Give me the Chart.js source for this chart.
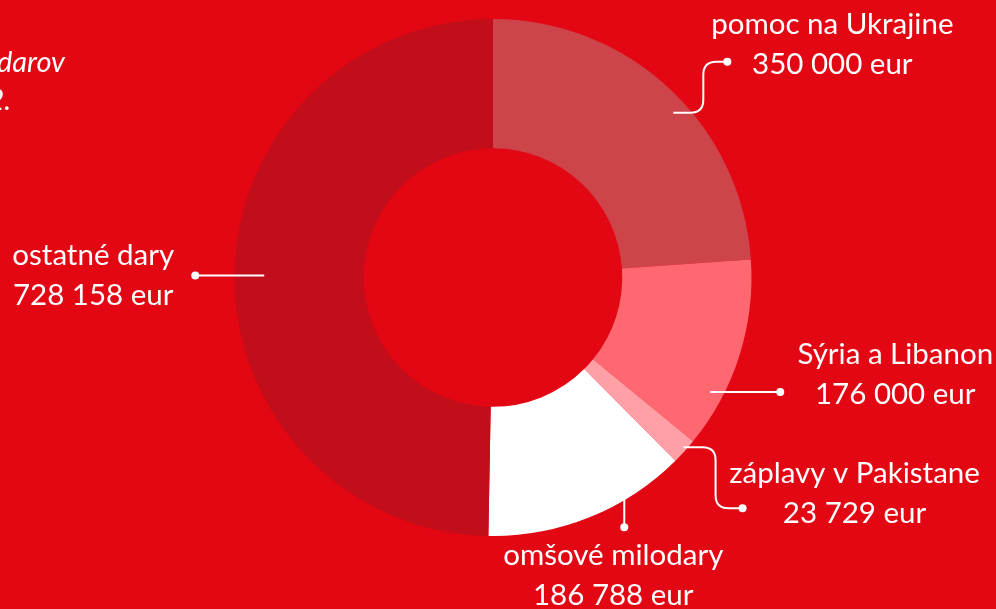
<!DOCTYPE html>
<html>
<head>
<meta charset="utf-8">
<script src="https://cdn.jsdelivr.net/npm/chart.js@4.4.0/dist/chart.umd.min.js"></script>
<style>
  html, body { margin: 0; padding: 0; background: #e30613; }
  #wrap { width: 996px; height: 609px; position: relative; }
</style>
</head>
<body>
<div id="wrap"><canvas id="donut"></canvas></div>
<script>
// data
const categories = ['pomoc na Ukrajine', 'Sýria a Libanon', 'záplavy v Pakistane', 'omšové milodary', 'ostatné dary'];
const amounts = [350000, 176000, 23729, 186788, 728158];
const valueLabels = ['350 000 eur', '176 000 eur', '23 729 eur', '186 788 eur', '728 158 eur'];
const sliceColors = ['#cd444b', '#ff6871', '#ff9fa6', '#ffffff', '#c20e1a'];

// where each leader line leaves the ring and how it bends
const leaders = [
  { f: 0.553, k: 0.945, kind: 'up',   h1: 30, rise: -51, h2: 24, tx: 105, ty: 12 },
  { f: 0.734, k: 0.95,  kind: 'flat', h1: 70, tx: 115, ty: 12 },
  { f: 0.41,  k: 0.987, kind: 'up',   h1: 32, rise: 61, h2: 27, tx: 112, ty: 15 },
  { f: 0.29,  k: 0.97,  kind: 'down', v: 36, tx: -11, ty: 78 },
  { f: 0.5,   k: 0.885, kind: 'flat', h1: -69, tx: -102, ty: 30 }
];

const FONT = '29.5px Lato, "Open Sans", sans-serif';

const labelPlugin = {
  id: 'leaderLabels',
  afterDraw(chart) {
    const ctx = chart.ctx;
    const arcs = chart.getDatasetMeta(0).data;
    ctx.save();
    ctx.strokeStyle = '#ffffff';
    ctx.fillStyle = '#ffffff';
    ctx.lineWidth = 2;
    arcs.forEach((arc, i) => {
      const L = leaders[i];
      const a = arc.startAngle + L.f * (arc.endAngle - arc.startAngle);
      const r = arc.outerRadius * L.k;
      const sx = arc.x + Math.cos(a) * r;
      const sy = arc.y + Math.sin(a) * r;
      let dx, dy;
      ctx.beginPath();
      ctx.moveTo(sx, sy);
      if (L.kind === 'flat') {
        dx = sx + L.h1; dy = sy;
        ctx.lineTo(dx, dy);
      } else if (L.kind === 'down') {
        dx = sx; dy = sy + L.v;
        ctx.lineTo(dx, dy);
      } else {
        const vx = sx + L.h1;
        const ey = sy + L.rise;
        const s = Math.sign(L.rise);
        const cr = 13;
        ctx.lineTo(vx - cr, sy);
        ctx.quadraticCurveTo(vx, sy, vx, sy + s * cr);
        ctx.lineTo(vx, ey - s * cr);
        ctx.quadraticCurveTo(vx, ey, vx + cr, ey);
        dx = vx + L.h2; dy = ey;
        ctx.lineTo(dx, dy);
      }
      ctx.stroke();
      ctx.beginPath();
      ctx.arc(dx, dy, 4, 0, Math.PI * 2);
      ctx.fill();

      ctx.font = FONT;
      ctx.textAlign = 'center';
      ctx.textBaseline = 'alphabetic';
      const cx = dx + L.tx;
      const by = dy + L.ty;
      ctx.fillText(categories[i], cx, by - 40);
      ctx.fillText(valueLabels[i], cx, by);
    });

    // heading cut off at the left edge
    ctx.font = 'italic 29px Lato, "Open Sans", sans-serif';
    ctx.textAlign = 'right';
    ctx.fillText('Prehľad darov', 65, 72);
    ctx.fillText('v roku 2022.', 11, 110);
    ctx.restore();
  }
};

new Chart(document.getElementById('donut'), {
  type: 'doughnut',
  data: {
    labels: categories,
    datasets: [{
      data: amounts,
      backgroundColor: sliceColors,
      borderWidth: 0
    }]
  },
  options: {
    responsive: true,
    maintainAspectRatio: false,
    animation: false,
    cutout: '50%',
    layout: { padding: { top: 19, bottom: 73, left: 0, right: 10 } },
    plugins: {
      legend: { display: false },
      tooltip: { enabled: false }
    },
    events: []
  },
  plugins: [labelPlugin]
});
</script>
</body>
</html>
